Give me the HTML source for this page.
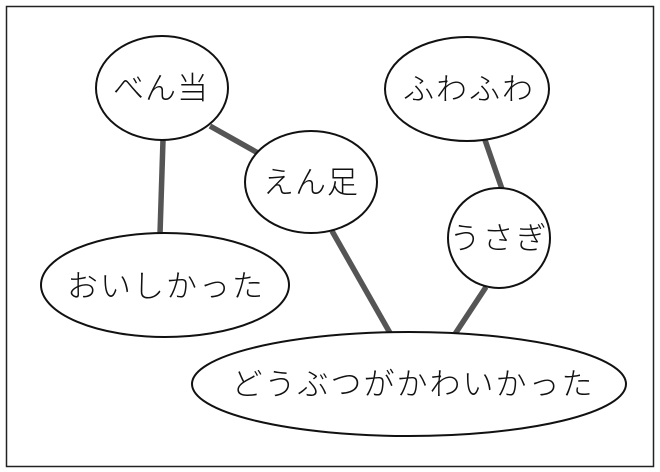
<!DOCTYPE html>
<html><head><meta charset="utf-8"><style>
html,body{margin:0;padding:0;background:#fff;}
svg{display:block;}
text{font-family:"Liberation Sans","Noto Sans CJK JP",sans-serif;font-size:31px;font-weight:300;fill:#111;text-anchor:middle;}
</style></head><body>
<svg width="660" height="472" viewBox="0 0 660 472" xmlns="http://www.w3.org/2000/svg">
<rect x="0" y="0" width="660" height="472" fill="#fff"/>
<rect x="6.5" y="6.5" width="647" height="460" fill="none" stroke="#222" stroke-width="1.5"/>
<g stroke="#555" stroke-width="5.5" stroke-linecap="butt">
<line x1="163" y1="140" x2="160" y2="234"/>
<line x1="210" y1="126" x2="258" y2="153"/>
<line x1="332" y1="231" x2="390" y2="333"/>
<line x1="485" y1="140" x2="502" y2="189"/>
<line x1="486" y1="287" x2="455" y2="334"/>
</g>
<g fill="#fff" stroke="#111" stroke-width="2">
<ellipse cx="162" cy="88" rx="66" ry="52"/>
<ellipse cx="311" cy="182" rx="66" ry="51"/>
<ellipse cx="165" cy="285" rx="124" ry="52"/>
<ellipse cx="467" cy="89" rx="82" ry="52"/>
<ellipse cx="499" cy="238" rx="51" ry="50"/>
<ellipse cx="409" cy="384" rx="217" ry="52"/>
</g>
<text x="161" y="99" letter-spacing="1">べん当</text>
<text x="311" y="193" letter-spacing="1">えん足</text>
<text x="166" y="297" letter-spacing="2">おいしかった</text>
<text x="469" y="100" letter-spacing="2">ふわふわ</text>
<text x="499" y="249" letter-spacing="2">うさぎ</text>
<text x="413" y="395" letter-spacing="2">どうぶつがかわいかった</text>
</svg>
</body></html>
